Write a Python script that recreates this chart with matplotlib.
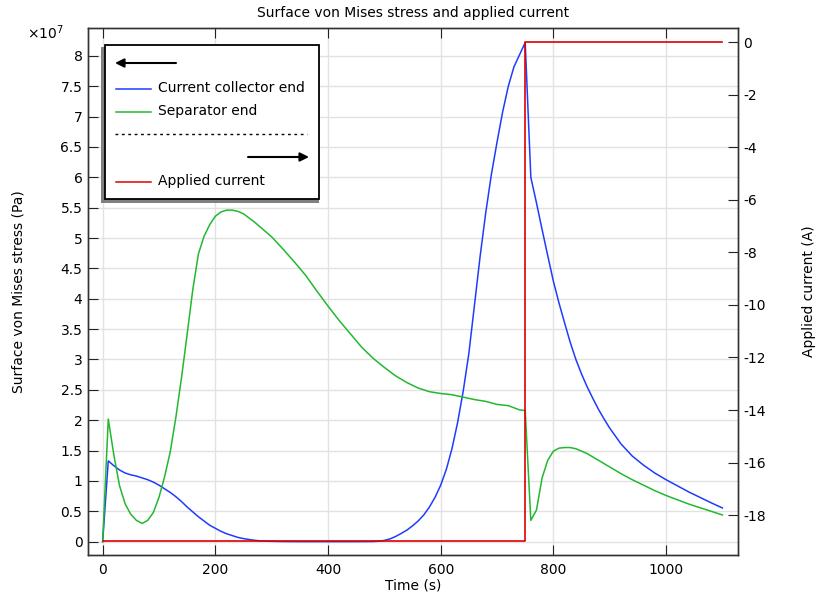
import matplotlib
matplotlib.use("Agg")
import matplotlib.pyplot as plt
import matplotlib.patches as mpatches
from matplotlib.ticker import FuncFormatter, MultipleLocator

plt.rcParams["font.family"] = "DejaVu Sans"
plt.rcParams["font.size"] = 10
plt.rcParams["axes.unicode_minus"] = False

# time (s) and von Mises stress (units of 1e7 Pa)
t_cc = [0, 10, 20, 30, 40, 50, 60, 70, 80, 90, 100, 110, 120, 130, 140, 150,
        160, 170, 180, 190, 200, 210, 220, 230, 240, 250, 260, 270, 280, 300,
        320, 350, 400, 450, 480, 490, 500, 510, 520, 530, 540, 550, 560, 570,
        580, 590, 600, 610, 620, 630, 640, 650, 660, 670, 680, 690, 700, 710,
        720, 730, 740, 750, 760, 770, 780, 790, 800, 810, 820, 830, 840, 850,
        860, 870, 880, 890, 900, 920, 940, 960, 980, 1000, 1020, 1040, 1060,
        1080, 1100]
s_cc = [0, 1.33, 1.25, 1.18, 1.13, 1.10, 1.08, 1.05, 1.02, 0.98, 0.93, 0.87,
        0.81, 0.74, 0.66, 0.57, 0.49, 0.41, 0.34, 0.27, 0.22, 0.17, 0.13, 0.10,
        0.07, 0.05, 0.035, 0.022, 0.013, 0.005, 0.002, 0.0, 0.0, 0.0, 0.002,
        0.007, 0.02, 0.045, 0.085, 0.135, 0.19, 0.26, 0.34, 0.44, 0.57, 0.73,
        0.93, 1.19, 1.53, 1.96, 2.48, 3.10, 3.90, 4.70, 5.42, 6.05, 6.58, 7.08,
        7.50, 7.82, 8.02, 8.22, 6.00, 5.58, 5.14, 4.71, 4.29, 3.93, 3.60, 3.28,
        3.00, 2.76, 2.55, 2.36, 2.18, 2.02, 1.87, 1.61, 1.41, 1.26, 1.13, 1.02,
        0.92, 0.82, 0.73, 0.64, 0.555]

t_sep = [0, 10, 20, 30, 40, 50, 60, 70, 80, 90, 100, 110, 120, 130, 140, 150,
         160, 170, 180, 190, 200, 210, 220, 230, 240, 250, 260, 270, 280, 290,
         300, 320, 340, 360, 380, 400, 420, 440, 460, 480, 500, 520, 540, 560,
         580, 600, 620, 640, 660, 680, 700, 720, 740, 750, 760, 770, 780, 790,
         800, 810, 820, 830, 840, 860, 880, 900, 920, 940, 960, 980, 1000, 1020,
         1040, 1060, 1080, 1100]
s_sep = [0, 2.02, 1.42, 0.92, 0.62, 0.45, 0.35, 0.30, 0.35, 0.48, 0.73, 1.07,
         1.48, 2.05, 2.70, 3.42, 4.15, 4.74, 5.03, 5.22, 5.36, 5.43, 5.46, 5.46,
         5.44, 5.40, 5.33, 5.26, 5.18, 5.10, 5.02, 4.82, 4.61, 4.39, 4.13, 3.88,
         3.64, 3.42, 3.20, 3.02, 2.87, 2.73, 2.62, 2.53, 2.47, 2.44, 2.42, 2.38,
         2.34, 2.31, 2.26, 2.24, 2.17, 2.16, 0.35, 0.52, 1.05, 1.34, 1.49, 1.54,
         1.55, 1.55, 1.53, 1.45, 1.34, 1.23, 1.12, 1.02, 0.93, 0.84, 0.76, 0.69,
         0.62, 0.56, 0.50, 0.44]

t_cur = [0, 750, 750, 1100]
i_cur = [-19, -19, 0, 0]

blue = "#1e3cff"
green = "#22b830"
red = "#dd0000"

fig = plt.figure(figsize=(8.16, 5.96), dpi=100)
ax = fig.add_axes([88 / 816, 41 / 596, 649.6 / 816, 527 / 596])
ax2 = ax.twinx()

ax.plot(t_cc, [v * 1e7 for v in s_cc], color=blue, lw=1.1, zorder=3)
ax.plot(t_sep, [v * 1e7 for v in s_sep], color=green, lw=1.1, zorder=3)
ax2.plot(t_cur, i_cur, color=red, lw=1.2)

ax.set_xlim(-26, 1127)
ax.set_ylim(-0.22e7, 8.46e7)
ax2.set_ylim(-19.52, 0.545)

ax.xaxis.set_major_locator(MultipleLocator(200))
ax.yaxis.set_major_locator(MultipleLocator(0.5e7))
ax.yaxis.set_major_formatter(FuncFormatter(lambda v, p: "%g" % (v / 1e7)))
ax2.yaxis.set_major_locator(MultipleLocator(2))
ax2.yaxis.set_major_formatter(FuncFormatter(lambda v, p: "%g" % v))

ax.grid(True, color="#e2e2e2", lw=1)
ax.set_axisbelow(True)
ax.tick_params(axis="x", direction="in", length=7, top=True, pad=6, colors="#222222", labelcolor="black")
ax.tick_params(axis="y", direction="in", length=7, pad=4, colors="#222222", labelcolor="black")
ax2.tick_params(axis="y", direction="in", length=7, pad=4, colors="#222222", labelcolor="black")
for a in (ax, ax2):
    for sp in a.spines.values():
        sp.set_color("#333333")
        sp.set_linewidth(1.0)

ax.set_title("Surface von Mises stress and applied current", fontsize=10, pad=8)
ax.set_xlabel("Time (s)", labelpad=1)
ax.set_ylabel("Surface von Mises stress (Pa)", labelpad=25)
ax2.set_ylabel("Applied current (A)", labelpad=26)

# overlay in pixel coordinates for the COMSOL-style legend
ov = fig.add_axes([0, 0, 1, 1], zorder=10)
ov.set_xlim(0, 816)
ov.set_ylim(596, 0)
ov.axis("off")
ov.patch.set_alpha(0)

ov.text(27, 39, r"$\times10^{7}$", fontsize=10, ha="left", va="baseline")

ov.add_patch(mpatches.Rectangle((101, 47), 218, 156, facecolor="#808080", edgecolor="none"))
ov.add_patch(mpatches.Rectangle((105, 45), 214, 154, facecolor="white", edgecolor="black", lw=1.3))

ov.annotate("", xy=(115, 63), xytext=(176, 63),
            arrowprops=dict(arrowstyle="-|>", color="black", lw=1.5, mutation_scale=13, shrinkA=0, shrinkB=0))
ov.plot([116, 151], [88.5, 88.5], color=blue, lw=1.1)
ov.text(158, 88.5, "Current collector end", va="center", ha="left")
ov.plot([116, 151], [111.5, 111.5], color=green, lw=1.1)
ov.text(158, 111.5, "Separator end", va="center", ha="left")
ov.plot([115, 307], [134, 134], color="black", lw=1, dashes=(2, 2.6))
ov.annotate("", xy=(309, 157), xytext=(248, 157),
            arrowprops=dict(arrowstyle="-|>", color="black", lw=1.5, mutation_scale=13, shrinkA=0, shrinkB=0))
ov.plot([116, 151], [181.5, 181.5], color=red, lw=1.1)
ov.text(158, 181.5, "Applied current", va="center", ha="left")

fig.savefig("out.png", dpi=100)
